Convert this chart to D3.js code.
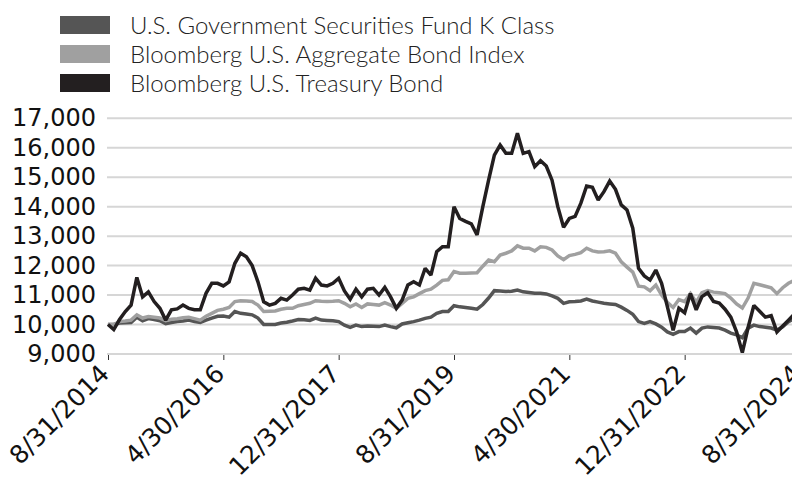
<!DOCTYPE html>
<html>
<head>
<meta charset="utf-8">
<script src="https://cdn.jsdelivr.net/npm/d3@7/dist/d3.min.js"></script>
<style>
  html, body { margin: 0; padding: 0; background: #fff; }
  svg { display: block; }
</style>
</head>
<body>
<svg id="chart" width="792" height="483"></svg>
<script>
// ---- Data (monthly, 8/31/2014 .. 8/31/2024) ----
const seriesNames = [
  "U.S. Government Securities Fund K Class",
  "Bloomberg U.S. Aggregate Bond Index",
  "Bloomberg U.S. Treasury Bond"
];
const seriesColors = ["#555555", "#a0a0a0", "#231f20"];

const fundValues = [
  10000,10000,10050,10060,10070,10250,10130,10200,10170,10130,
  10030,10070,10100,10120,10150,10100,10070,10150,10220,10280,
  10290,10250,10440,10380,10360,10330,10220,10000,10000,10000,
  10050,10080,10120,10170,10160,10140,10220,10150,10140,10130,
  10100,9980,9900,9980,9930,9950,9940,9930,9980,9930,
  9890,10020,10060,10100,10150,10210,10250,10380,10440,10440,
  10640,10600,10580,10550,10520,10680,10900,11150,11140,11120,
  11130,11170,11110,11090,11060,11060,11040,10970,10890,10720,
  10770,10780,10800,10860,10800,10760,10720,10700,10680,10590,
  10480,10350,10100,10040,10100,10020,9910,9750,9670,9760,
  9760,9880,9710,9880,9920,9900,9880,9810,9710,9650,
  9550,9880,9980,9930,9910,9880,9810,9920,10100,10200,
  10250
];
const aggregateValues = [
  10000,10000,10100,10120,10150,10330,10220,10270,10250,10220,
  10130,10180,10200,10230,10250,10200,10150,10280,10380,10480,
  10520,10580,10780,10810,10800,10780,10660,10440,10450,10460,
  10520,10550,10550,10640,10680,10720,10810,10790,10780,10790,
  10810,10720,10600,10700,10580,10700,10680,10660,10740,10660,
  10550,10720,10890,10940,11050,11150,11200,11340,11500,11520,
  11800,11740,11740,11750,11760,11980,12190,12130,12360,12420,
  12500,12670,12590,12590,12500,12640,12620,12530,12330,12200,
  12340,12380,12440,12590,12500,12460,12470,12500,12420,12130,
  11950,11780,11300,11280,11150,11340,11000,10750,10580,10850,
  10780,11050,10760,11080,11150,11100,11080,11050,10900,10700,
  10560,10900,11400,11350,11300,11250,11050,11250,11400,11500,
  11550
];
const treasuryValues = [
  10000,9830,10170,10440,10660,11600,10940,11110,10780,10550,
  10150,10500,10530,10660,10550,10500,10500,11060,11400,11400,
  11310,11450,12080,12420,12300,12000,11450,10770,10660,10720,
  10890,10830,11000,11200,11230,11170,11570,11340,11310,11400,
  11570,11140,10860,11200,10940,11200,11230,11000,11260,10940,
  10550,10830,11340,11450,11340,11910,11680,12470,12640,12640,
  14000,13600,13500,13420,13040,14000,14900,15750,16090,15810,
  15810,16490,15810,15870,15360,15560,15380,14900,14000,13300,
  13600,13670,14120,14700,14660,14230,14510,14870,14590,14060,
  13890,13270,11910,11650,11510,11850,11400,10610,9800,10550,
  10400,11050,10500,10950,11080,10780,10730,10520,10250,9750,
  9050,9900,10650,10450,10250,10300,9750,9950,10150,10350,
  10450
];

const tickLabels = ["8/31/2014","4/30/2016","12/31/2017","8/31/2019","4/30/2021","12/31/2022","8/31/2024"];
const tickMonthStep = 20;
const yTicks = [9000,10000,11000,12000,13000,14000,15000,16000,17000];

// ---- Layout ----
const svg = d3.select("#chart");
const plotLeft = 108, plotRight = 800;
const plotTop = 118.3, plotBottom = 354;

const nMonths = fundValues.length - 1;
const x = d3.scaleLinear().domain([0, nMonths]).range([plotLeft, plotRight]);
const y = d3.scaleLinear().domain([9000, 17000]).range([plotBottom, plotTop]);

// gridlines
svg.append("g")
  .selectAll("line")
  .data(yTicks)
  .join("line")
  .attr("x1", plotLeft - 1)
  .attr("x2", 792)
  .attr("y1", d => y(d))
  .attr("y2", d => y(d))
  .attr("stroke", "#d6d6d6")
  .attr("stroke-width", 2);

// y labels
const yAxis = d3.axisLeft(y).tickValues(yTicks).tickFormat(d3.format(",")).tickSize(0).tickPadding(11);
const gy = svg.append("g").attr("transform", `translate(${plotLeft - 1},0)`).call(yAxis);
gy.select(".domain").remove();
gy.selectAll("text")
  .attr("font-family", "DejaVu Sans")
  .attr("font-size", 24)
  .attr("fill", "#111");

// x axis
const xTickVals = tickLabels.map((_, i) => i * tickMonthStep);
const xAxis = d3.axisBottom(x).tickValues(xTickVals)
  .tickFormat((d, i) => tickLabels[i]).tickSize(5).tickPadding(4);
const gx = svg.append("g").attr("transform", `translate(0,${plotBottom + 1})`).call(xAxis);
gx.select(".domain").remove();
gx.selectAll(".tick line").attr("stroke", "#333").attr("stroke-width", 1);
gx.selectAll("text")
  .attr("font-family", "DejaVu Sans")
  .attr("font-size", 25)
  .attr("fill", "#111")
  .attr("text-anchor", "end")
  .attr("x", 0)
  .attr("y", 0)
  .attr("dy", "0.35em")
  .attr("transform", "translate(-4,14) rotate(-45)");

// lines
const line = d3.line().x((d, i) => x(i)).y(d => y(d)).curve(d3.curveLinear);
const allSeries = [fundValues, aggregateValues, treasuryValues];
svg.append("g")
  .selectAll("path")
  .data(allSeries)
  .join("path")
  .attr("d", d => line(d))
  .attr("fill", "none")
  .attr("stroke", (d, i) => seriesColors[i])
  .attr("stroke-width", 3.5)
  .attr("stroke-linejoin", "miter")
  .attr("stroke-miterlimit", 2);

// legend
const legend = svg.append("g");
seriesNames.forEach((name, i) => {
  const ly = 16 + i * 29;
  legend.append("rect")
    .attr("x", 60).attr("y", ly).attr("width", 50).attr("height", 18)
    .attr("fill", seriesColors[i]);
  legend.append("text")
    .attr("x", 130).attr("y", ly + 9)
    .attr("dy", "0.36em")
    .attr("font-family", "Lato")
    .attr("font-weight", 300)
    .attr("font-size", 24)
    .attr("fill", "#222")
    .text(name);
});
</script>
</body>
</html>
